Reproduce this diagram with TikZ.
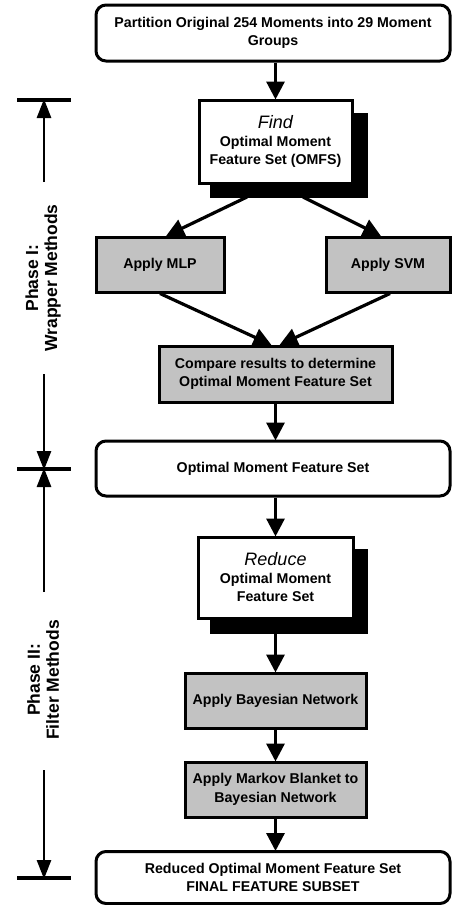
\documentclass[tikz,border=0pt]{standalone}
\usepackage{fontspec}
\setmainfont{Liberation Sans}
\usetikzlibrary{arrows.meta}
% italic action word heading the white step boxes
\newcommand\actword[1]{{\fontsize{18}{20}\selectfont\mdseries\itshape #1}}
\begin{document}
\begin{tikzpicture}[x=1pt,y=-1pt,
  boxtext/.style={font=\fontsize{14.2}{18.5}\selectfont\bfseries, align=center},
  roundbox/.style={boxtext, draw, line width=3pt, rounded corners=10pt, fill=white, inner sep=0pt},
  plainbox/.style={boxtext, draw, line width=3pt, fill=white, inner sep=0pt},
  graybox/.style={boxtext, draw, line width=3pt, fill=black!24, inner sep=0pt},
  shadowbox/.style={draw, line width=1pt, fill=black, inner sep=0pt},
  flow/.style={line width=3.2pt, -{Triangle[length=18pt,width=18pt]}, shorten >=-1pt},
  side/.style={line width=2.8pt, -{Triangle[length=19pt,width=14pt]}, shorten >=-1pt},
  bar/.style={line width=4pt},
  phase/.style={font=\fontsize{17.5}{19}\selectfont\bfseries, align=center, rotate=90}
]
\useasboundingbox (0,0) rectangle (451,905);

% main column
\node[roundbox, minimum width=354pt, minimum height=56pt] (top) at (273,33)
  {Partition Original 254 Moments into 29 Moment\\Groups};

\node[shadowbox, minimum width=157pt, minimum height=84pt] (findsh) at (288.5,155) {};
\node[plainbox, minimum width=153pt, minimum height=83pt] (find) at (275.5,141.5)
  {\actword{Find}\\[-1pt]Optimal Moment\\Feature Set (OMFS)};

\node[graybox, minimum width=128pt, minimum height=55pt] (mlp) at (160,264.5) {Apply MLP};
\node[graybox, minimum width=124pt, minimum height=55pt] (svm) at (388,264.5) {Apply SVM};

\node[graybox, minimum width=233pt, minimum height=56pt] (cmp) at (275.5,374)
  {Compare results to determine\\Optimal Moment Feature Set};

\node[roundbox, minimum width=354pt, minimum height=55pt] (omfs) at (273,468.5)
  {Optimal Moment Feature Set};

\node[shadowbox, minimum width=157pt, minimum height=84pt] (redsh) at (288.5,591) {};
\node[plainbox, minimum width=155pt, minimum height=81pt] (red) at (275.5,577.5)
  {\actword{Reduce}\\[-1pt]Optimal Moment\\Feature Set};

\node[graybox, minimum width=181pt, minimum height=55pt] (bayes) at (275.5,700.5)
  {Apply Bayesian Network};
\node[graybox, minimum width=181pt, minimum height=55pt] (markov) at (275.5,789.5)
  {Apply Markov Blanket to\\Bayesian Network};

\node[roundbox, minimum width=354pt, minimum height=52pt] (final) at (273,877.5)
  {Reduced Optimal Moment Feature Set\\FINAL FEATURE SUBSET};

% flow connectors
\coordinate (fl) at (247,197);
\coordinate (fr) at (303,197);
\draw[flow] (top.south -| find.north) -- (find.north);
\draw[flow] (fl) -- ([xshift=7pt]mlp.north);
\draw[flow] (fr) -- ([xshift=-8pt]svm.north);
\draw[flow] (mlp.south) -- ([xshift=-5pt]cmp.north);
\draw[flow] ([xshift=2pt]svm.south) -- ([xshift=5pt]cmp.north);
\draw[flow] (cmp.south) -- (cmp.south |- omfs.north);
\draw[flow] (omfs.south -| red.north) -- (red.north);
\draw[flow] (redsh.south -| bayes.north) -- (bayes.north);
\draw[flow] (bayes.south) -- (markov.north);
\draw[flow] (markov.south) -- (markov.south |- final.north);

% phase scale on the left
\coordinate (b1) at (44,100);
\coordinate (b2) at (44,469);
\coordinate (b3) at (44,878);
\coordinate (a1) at (44,182);
\coordinate (a2) at (44,374);
\coordinate (a3) at (44,592);
\coordinate (a4) at (44,770);
\foreach \b in {b1,b2,b3}
  \draw[bar] ([xshift=-27pt]\b) -- ([xshift=27pt]\b);
\draw[side] (a1) -- (b1);
\draw[side] (a2) -- (b2);
\draw[side] (a3) -- (b2);
\draw[side] (a4) -- (b3);

\node[phase] (ph1) at (43,278) {Phase I:\\Wrapper Methods};
\node[phase] (ph2) at (43,680) {Phase II:\\Filter Methods};
\end{tikzpicture}
\end{document}
